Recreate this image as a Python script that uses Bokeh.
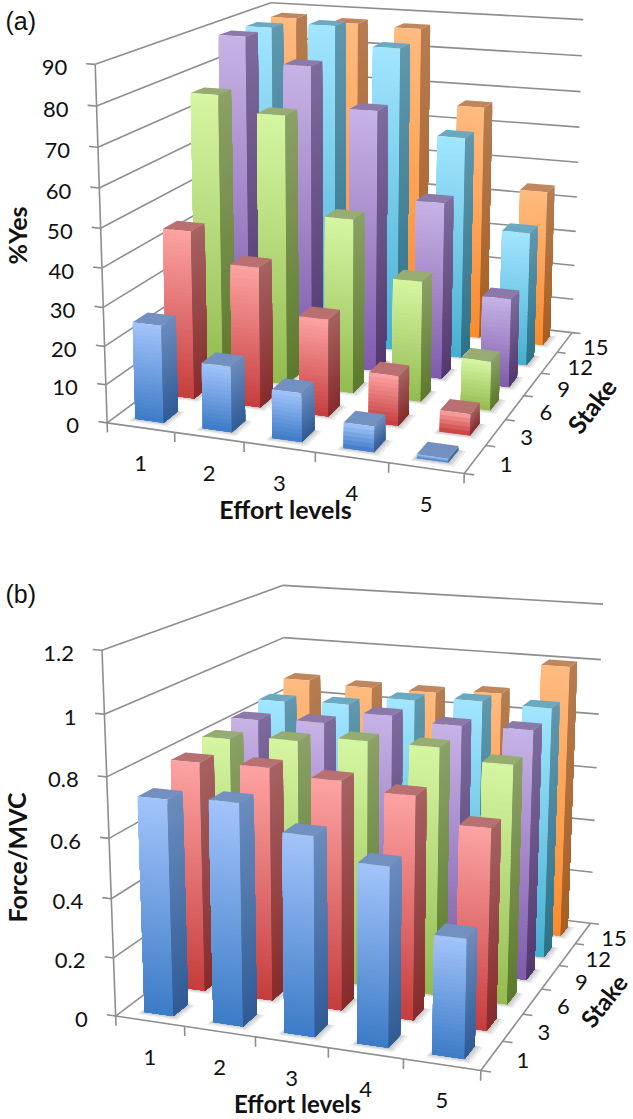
import numpy as np
from bokeh.plotting import figure
from bokeh.models import Range1d, ColumnDataSource
from bokeh.core.properties import value
from bokeh.embed import file_html
from bokeh.resources import INLINE

effort_levels = ["1", "2", "3", "4", "5"]
stake_levels = ["1", "3", "6", "9", "12", "15"]

# %Yes, one list per stake, effort 1..5
yes_stake_1 = [25.3, 17, 12.5, 6.5, 1]
yes_stake_3 = [44.5, 37, 25.5, 13, 5.5]
yes_stake_6 = [76, 72, 46.5, 32, 13]
yes_stake_9 = [88.3, 81.6, 71, 48, 24]
yes_stake_12 = [88, 89.5, 84.5, 61.5, 37]
yes_stake_15 = [88, 87.5, 87, 66.3, 44]
yes_ticks = ["0", "10", "20", "30", "40", "50", "60", "70", "80", "90"]
yes_max = 90.0

# Force/MVC, one list per stake, effort 1..5
force_stake_1 = [0.727, 0.74, 0.66, 0.59, 0.39]
force_stake_3 = [0.79, 0.795, 0.775, 0.75, 0.67]
force_stake_6 = [0.815, 0.83, 0.85, 0.85, 0.815]
force_stake_9 = [0.83, 0.84, 0.885, 0.87, 0.875]
force_stake_12 = [0.847, 0.855, 0.89, 0.905, 0.90]
force_stake_15 = [0.88, 0.87, 0.87, 0.885, 1.0]
force_ticks = ["0", "0.2", "0.4", "0.6", "0.8", "1", "1.2"]
force_max = 1.2

# per-stake colours: front top, front bottom, side top, side bottom, cap
PALETTE = [
    ("#a3c4fb", "#3c7bc6", "#6b8cbd", "#2f5b96", "#7290c0"),
    ("#fda3a3", "#c63d3d", "#a66262", "#872b2b", "#b87070"),
    ("#d6f6a2", "#93bb50", "#8ba166", "#5c7a2d", "#97ac70"),
    ("#c7b3e6", "#7f5bab", "#7e6b9c", "#53386f", "#8c79a9"),
    ("#a2e5ff", "#46afd1", "#5f98af", "#2e7288", "#6ba9c3"),
    ("#ffbb80", "#f98b2d", "#b67d51", "#a95d20", "#c1875c"),
]
GRID = "#8e8e8e"
LABEL_FONT = "Lato"


def fit_camera(world, image):
    rows = []
    for (X, Y, Z), (u, v) in zip(world, image):
        rows.append([X, Y, Z, 1, 0, 0, 0, 0, -u * X, -u * Y, -u * Z, -u])
        rows.append([0, 0, 0, 0, X, Y, Z, 1, -v * X, -v * Y, -v * Z, -v])
    _, _, vt = np.linalg.svd(np.array(rows, float))
    return vt[-1].reshape(3, 4)


def mix(c1, c2, t):
    a = [int(c1[i:i + 2], 16) for i in (1, 3, 5)]
    b = [int(c2[i:i + 2], 16) for i in (1, 3, 5)]
    return "#%02x%02x%02x" % tuple(round(a[i] + (b[i] - a[i]) * t) for i in range(3))


p = figure(width=633, height=1119, x_range=Range1d(0, 633), y_range=Range1d(1119, 0),
           output_backend="svg", toolbar_location=None, min_border=0,
           outline_line_color=None, margin=(0, 0, 0, 0))
p.xaxis.visible = False
p.yaxis.visible = False
p.grid.visible = False


def chart(series, vmax, ticks, anchors, texts):
    cam = fit_camera(anchors["world"], anchors["image"])

    def P(x, y, z):
        q = cam @ np.array([x, y, z / vmax, 1.0])
        return q[0] / q[2], q[1] / q[2]

    lx, ly = [], []

    def seg(a, b):
        ax, ay = P(*a)
        bx, by = P(*b)
        lx.append([ax, bx])
        ly.append([ay, by])

    nz = len(ticks)
    step = vmax / (nz - 1)
    for k in range(nz):
        z = k * step
        seg((0, 0, z), (0, 6, z))
        seg((0, 6, z), (5, 6, z))
        seg((0, 0, z), (-0.13, 0, z))
    seg((0, 0, 0), (0, 0, vmax))
    seg((0, 0, 0), (5, 0, 0))
    seg((5, 0, 0), (5, 6, 0))
    for i in range(6):
        seg((i, 0, 0), (i, 0, -0.028 * vmax))
    for j in range(7):
        seg((5, j, 0), (5.13, j, 0))
    p.multi_line(lx, ly, line_color=GRID, line_width=1.6)

    xs, ys, fc, fa = [], [], [], []

    def poly(pts, color, alpha=1.0):
        u = [P(*q) for q in pts]
        xs.append([a for a, _ in u])
        ys.append([b for _, b in u])
        fc.append(color)
        fa.append(alpha)

    wx, wy = texts["bar"]
    for r in range(len(series) - 1, -1, -1):
        ft, fb, st, sb, cap = PALETTE[r]
        for i, v in enumerate(series[r]):
            x0, x1 = i + (1 - wx) / 2, i + (1 + wx) / 2
            y0, y1 = r + (1 - wy) / 2, r + (1 + wy) / 2
            for e, al in ((0.11, 0.10), (0.07, 0.13), (0.03, 0.16)):
                poly([(x0 - e * 0.5, y0 - e, 0), (x1 + e, y0 - e, 0),
                      (x1 + e, y1, 0), (x0 - e * 0.5, y1, 0)], "#555555", al)
            strips = max(3, int(abs(P(x0, y0, 0)[1] - P(x0, y0, v)[1]) / 4))
            poly([(x0, y0, v), (x1, y0, v), (x1, y1, v), (x0, y1, v)], cap)
            for k in range(strips):
                zt = v * (1 - k / strips)
                t = (k + 0.5) / strips
                # every band runs down to the floor, so the next one overlaps it without a seam
                poly([(x0, y0, zt), (x1, y0, zt), (x1, y0, 0), (x0, y0, 0)], mix(ft, fb, t))
                poly([(x1, y0, zt), (x1, y1, zt), (x1, y1, 0), (x1, y0, 0)], mix(st, sb, t))
    src = ColumnDataSource(dict(xs=xs, ys=ys, c=fc, a=fa))
    p.patches("xs", "ys", source=src, fill_color="c", fill_alpha="a", line_color=None)

    tx, ty, tt = [], [], []
    for k, s in enumerate(ticks):
        a, b = P(0, 0, k * step)
        tx.append(a - 28)
        ty.append(b + 3)
        tt.append(s)
    p.text(tx, ty, text=tt, text_align="right", text_baseline="middle",
           text_font=value(LABEL_FONT), text_font_size="22px", text_color="#111111")
    tx, ty, tt = [], [], []
    for i, s in enumerate(effort_levels):
        a, b = P(i + 0.5, 0, 0)
        tx.append(a)
        ty.append(b + 36)
        tt.append(s)
    for j, s in enumerate(stake_levels):
        a, b = P(5, j + 0.5, 0)
        tx.append(a + 31)
        ty.append(b + 5)
        tt.append(s)
    p.text(tx, ty, text=tt, text_align="center", text_baseline="middle",
           text_font=value(LABEL_FONT), text_font_size="22px", text_color="#111111")

    for s, x, y, ang, size in texts["titles"]:
        p.text([x], [y], text=[s], angle=[np.radians(ang)], text_align="center",
               text_baseline="middle", text_font=value(LABEL_FONT), text_font_style="bold",
               text_font_size=size, text_color="#111111")
    s, x, y = texts["panel"]
    p.text([x], [y], text=[s], text_align="left", text_baseline="middle",
           text_font=value("Liberation Sans"), text_font_size="25px", text_color="#111111")


WORLD = [(0, 0, 0), (5, 0, 0), (5, 6, 0), (0, 6, 0), (0, 0, 1), (0, 6, 1), (5, 6, 1)]

chart([yes_stake_1, yes_stake_3, yes_stake_6, yes_stake_9, yes_stake_12, yes_stake_15],
      yes_max, yes_ticks,
      dict(world=WORLD,
           image=[(107, 424), (463, 472), (572, 333), (273, 297), (95, 63), (270, 3), (583, 19)]),
      dict(bar=(0.42, 0.46),
           titles=[("%Yes", 16, 235, 90, "25px"), ("Effort levels", 285, 508, 0, "25px"),
                   ("Stake", 591, 405, 52, "25px")],
           panel=("(a)", 5, 20)))

chart([force_stake_1, force_stake_3, force_stake_6, force_stake_9, force_stake_12, force_stake_15],
      force_max, force_ticks,
      dict(world=WORLD,
           image=[(115, 1018), (480, 1068), (590, 925), (286, 884), (102, 649), (282, 586), (603, 603)]),
      dict(bar=(0.42, 0.46),
           titles=[("Force/MVC", 16, 857, 90, "25px"), ("Effort levels", 297, 1103, 0, "24px"),
                   ("Stake", 603, 1000, 52, "24px")],
           panel=("(b)", 5, 593)))

open("out.html", "w").write(file_html(p, INLINE))
